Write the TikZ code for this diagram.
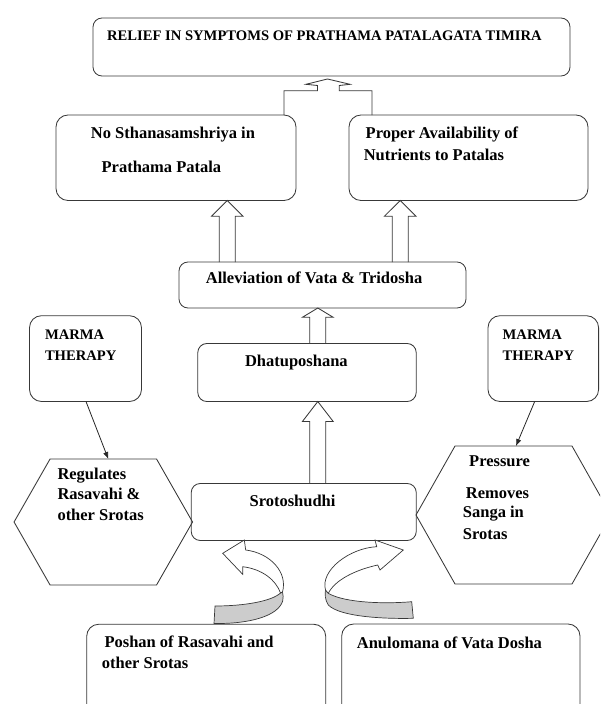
\documentclass[tikz,border=0pt]{standalone}
\usepackage{fontspec}
\setmainfont{Liberation Serif}
\usetikzlibrary{arrows.meta,calc}
\newcommand\upblock[6]{%
  \draw[blk] let \p1=(#2), \p2=(#3) in
    ({#1pt-#4pt},\y1) -- ({#1pt-#4pt},{\y2-#6pt}) -- ({#1pt-#5pt},{\y2-#6pt})
    -- ({#1pt},\y2) -- ({#1pt+#5pt},{\y2-#6pt}) -- ({#1pt+#4pt},{\y2-#6pt})
    -- ({#1pt+#4pt},\y1);}
\begin{document}
\begin{tikzpicture}[x=1pt,y=-1pt,
  line/.style={draw=black!78, line width=0.85pt},
  box/.style={line, rounded corners=9pt, inner sep=0pt, outer sep=0pt},
  bigbox/.style={box, rounded corners=12pt},
  hexnode/.style={inner sep=0pt, outer sep=0pt},
  blk/.style={line},
  txt/.style={font=\bfseries\fontsize{16.5}{19}\selectfont, anchor=base west, inner sep=0pt},
  captxt/.style={font=\bfseries\fontsize{14.6}{17}\selectfont, anchor=base west, inner sep=0pt},
  thinarrow/.style={draw=black!85, line width=0.8pt, -{Latex[length=7pt,width=5.5pt]}},
  backface/.style={line, line width=0.7pt, fill=gray!40},
  frontface/.style={line, line width=0.7pt, fill=white}]
\useasboundingbox (0,0) rectangle (600,704);
\clip (0,0) rectangle (600,704);

% boxes
\node[box, minimum width=477pt, minimum height=58pt] (top) at (331.5,47) {};
\node[bigbox, minimum width=240pt, minimum height=85.5pt] (l2l) at (176,157.75) {};
\node[bigbox, minimum width=239pt, minimum height=85.5pt] (l2r) at (468.5,157.75) {};
\node[box, minimum width=287pt, minimum height=46pt] (allev) at (322.5,285) {};
\node[box, minimum width=218.4pt, minimum height=58pt] (dhatu) at (307,372.5) {};
\node[box, minimum width=225pt, minimum height=57pt] (sroto) at (303.75,512) {};
\node[bigbox, minimum width=112pt, minimum height=85.8pt] (marmaL) at (85.5,358.6) {};
\node[bigbox, minimum width=110.6pt, minimum height=85.8pt] (marmaR) at (543.3,358.6) {};
\node[bigbox, minimum width=239pt, minimum height=135.5pt] (botL) at (206.2,692) {};
\node[bigbox, minimum width=238.3pt, minimum height=136pt] (botR) at (460.85,692) {};

% hexagons
\node[hexnode, minimum width=178.5pt, minimum height=126pt] (hexL) at (103.3,522) {};
\draw[line] (hexL.west) -- ([xshift=36pt]hexL.north west) -- ([xshift=-36pt]hexL.north east)
  -- (hexL.east) -- ([xshift=-36pt]hexL.south east) -- ([xshift=36pt]hexL.south west) -- cycle;
\node[hexnode, minimum width=195pt, minimum height=138pt] (hexR) at (513.5,515) {};
\draw[line] (hexR.west) -- ([xshift=39pt]hexR.north west) -- ([xshift=-39pt]hexR.north east)
  -- (hexR.east) -- ([xshift=-39pt]hexR.south east) -- ([xshift=39pt]hexR.south west) -- cycle;

% block arrows
\upblock{317.8}{sroto.north}{dhatu.south}{8}{15.4}{20}
\upblock{317.8}{dhatu.north}{allev.south}{8}{15.4}{9.3}
\upblock{227.3}{allev.north}{l2l.south}{8}{15.7}{15.7}
\upblock{400.2}{allev.north}{l2r.south}{8}{15.8}{15.7}
\draw[blk] let \p1=(l2l.north), \p2=(top.south) in
  (284pt,\y1) -- (284pt,{\y1+24.3pt}) -- (317.5pt,{\y1+24.3pt}) -- (317.5pt,{\y2-9.5pt})
  -- (306pt,{\y2-8.3pt}) -- (327.5pt,{\y2-3pt}) -- (350pt,{\y2-8.3pt}) -- (339.3pt,{\y2-9.5pt})
  -- (339.3pt,{\y1+24.3pt}) -- (372pt,{\y1+24.3pt}) -- (372pt,\y1);

% thin arrows
\draw[thinarrow] ([xshift=0.5pt]marmaL.south) -- ([xshift=5pt]hexL.north);
\draw[thinarrow] ([xshift=-8.6pt]marmaR.south) -- ([xshift=2.5pt]hexR.north);

% curved arrows
\draw[backface] (280.5,593) .. controls (272,601) and (245,606) .. (215,606) -- (214,623.5)
  .. controls (250,624) and (278,616) .. (282.7,601) .. controls (283.5,598) and (283.2,595) .. (282.5,592) -- cycle;
\draw[frontface] (245.7,550) .. controls (270,553) and (288,572) .. (282.5,592) -- (280.5,593)
  .. controls (276,580) and (262,569) .. (242.7,566.7) -- (242.7,574.3) -- (222.7,553.3) -- (244.3,540) -- cycle;
\draw[backface] (328.3,593.3) .. controls (345,603) and (385,604) .. (411.7,601.7) -- (413.3,618.3)
  .. controls (385,619) and (340,617) .. (328.3,605) .. controls (325,600) and (324.8,594) .. (325.5,590) -- cycle;
\draw[frontface] (376.7,546.7) .. controls (350,548) and (320,570) .. (325.5,590) -- (328.3,593.3)
  .. controls (335,580) and (355,570) .. (377.7,565) -- (380,570) -- (403.3,550) -- (375,540) -- cycle;

% texts
\node[captxt] (tTop) at (107,40.8) {RELIEF IN SYMPTOMS OF PRATHAMA PATALAGATA TIMIRA};
\node[txt] (tL2a) at (90.7,138.6) {No Sthanasamshriya in};
\node[txt] (tL2b) at (101.4,172) {Prathama Patala};
\node[txt] (tR2a) at (365.5,138.6) {Proper Availability of};
\node[txt] (tR2b) at (363.6,160.3) {Nutrients to Patalas};
\node[txt] (tAllev) at (205.7,283.3) {Alleviation of Vata \& Tridosha};
\node[captxt] (tMLa) at (44.8,339.5) {MARMA};
\node[captxt] (tMLb) at (44.8,360.3) {THERAPY};
\node[captxt] (tMRa) at (502.5,339.5) {MARMA};
\node[captxt] (tMRb) at (502.5,360.3) {THERAPY};
\node[txt] (tDhatu) at (244.8,366.3) {Dhatuposhana};
\node[txt] (tSroto) at (249.4,506) {Srotoshudhi};
\node[txt] (tHLa) at (57.3,479.3) {Regulates};
\node[txt] (tHLb) at (57.3,499.3) {Rasavahi \&};
\node[txt] (tHLc) at (57.3,520) {other Srotas};
\node[txt] (tHRa) at (469,466) {Pressure};
\node[txt] (tHRb) at (465.7,498.3) {Removes};
\node[txt] (tHRc) at (462.7,517.7) {Sanga in};
\node[txt] (tHRd) at (462.7,539) {Srotas};
\node[txt] (tBLa) at (104.3,647.7) {Poshan of Rasavahi and};
\node[txt] (tBLb) at (101.7,668.3) {other Srotas};
\node[txt] (tBR) at (356.7,648.3) {Anulomana of Vata Dosha};
\end{tikzpicture}
\end{document}
